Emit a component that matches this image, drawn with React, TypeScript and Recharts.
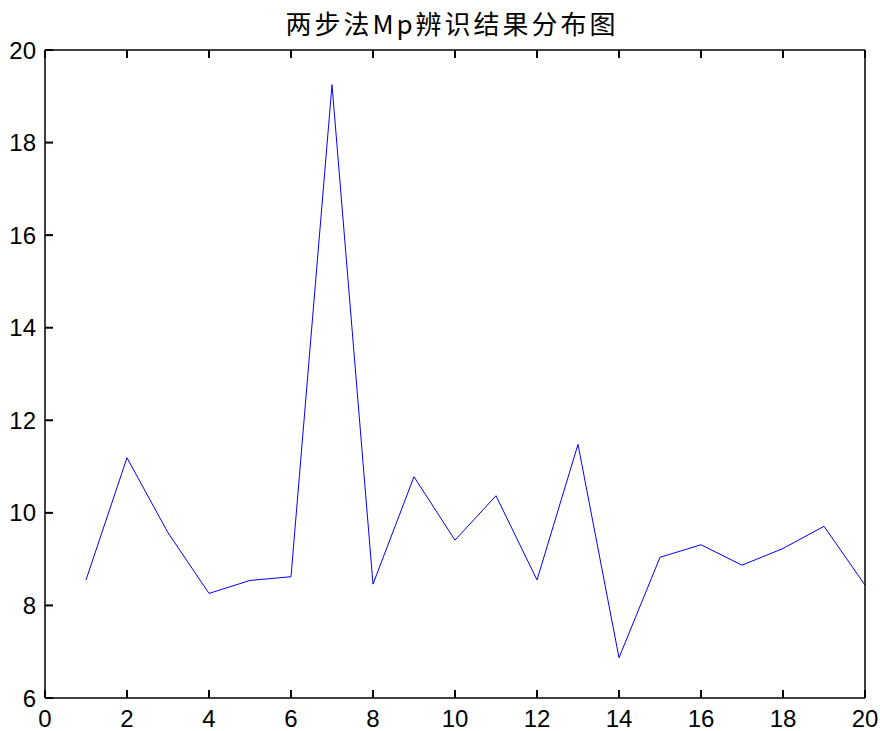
import { LineChart, Line, XAxis, YAxis } from 'recharts';

const samples = [1, 2, 3, 4, 5, 6, 7, 8, 9, 10, 11, 12, 13, 14, 15, 16, 17, 18, 19, 20];
const mpValues = [8.55, 11.19, 9.57, 8.26, 8.54, 8.62, 19.25, 8.46, 10.78, 9.41, 10.37, 8.55, 11.48, 6.87, 9.04, 9.31, 8.87, 9.23, 9.71, 8.44];
const xTicks = [0, 2, 4, 6, 8, 10, 12, 14, 16, 18, 20];
const yTicks = [6, 8, 10, 12, 14, 16, 18, 20];

const data = samples.map((x, i) => ({ x, mp: mpValues[i] }));

const FONT = '"Liberation Sans", Arial, sans-serif';
const tickText = { fill: '#000', fontSize: 24, fontFamily: FONT };
const tickMark = { stroke: '#000', strokeWidth: 2 };
const boxLine = { stroke: '#000', strokeWidth: 1.5 };
const NoLabel = () => <g />;

export default function App() {
  return (
    <div style={{ position: 'absolute', left: 0, top: 0, width: 880, height: 731, background: '#fff' }}>
      <div
        style={{
          position: 'absolute',
          left: 0,
          top: 8,
          width: 904,
          textAlign: 'center',
          fontSize: 26,
          letterSpacing: 3,
          fontFamily: '"Noto Sans CJK SC", sans-serif',
          color: '#000',
          lineHeight: '30px',
        }}
      >
        两步法Mp辨识结果分布图
      </div>
      <LineChart width={880} height={731} data={data} margin={{ top: 49, right: 14, bottom: 0, left: 0 }}>
        {/* negative tickSize -> ticks point inward, matlab style box */}
        <XAxis
          xAxisId="bottom"
          dataKey="x"
          type="number"
          domain={[0, 20]}
          ticks={xTicks}
          height={33}
          tickSize={-8}
          tickMargin={20}
          axisLine={boxLine}
          tickLine={tickMark}
          tick={tickText}
          interval={0}
        />
        <XAxis
          xAxisId="top"
          orientation="top"
          dataKey="x"
          type="number"
          domain={[0, 20]}
          ticks={xTicks}
          height={1}
          tickSize={-8}
          axisLine={boxLine}
          tickLine={tickMark}
          tick={<NoLabel />}
          interval={0}
        />
        <YAxis
          yAxisId="left"
          type="number"
          domain={[6, 20]}
          ticks={yTicks}
          width={45}
          tickSize={-8}
          tickMargin={17}
          axisLine={boxLine}
          tickLine={tickMark}
          tick={tickText}
          interval={0}
        />
        <YAxis
          yAxisId="right"
          orientation="right"
          type="number"
          domain={[6, 20]}
          ticks={yTicks}
          width={1}
          tickSize={-8}
          axisLine={boxLine}
          tickLine={tickMark}
          tick={<NoLabel />}
          interval={0}
        />
        <Line
          xAxisId="bottom"
          yAxisId="left"
          type="linear"
          dataKey="mp"
          stroke="#0000ff"
          strokeWidth={1}
          dot={false}
          isAnimationActive={false}
        />
      </LineChart>
    </div>
  );
}
